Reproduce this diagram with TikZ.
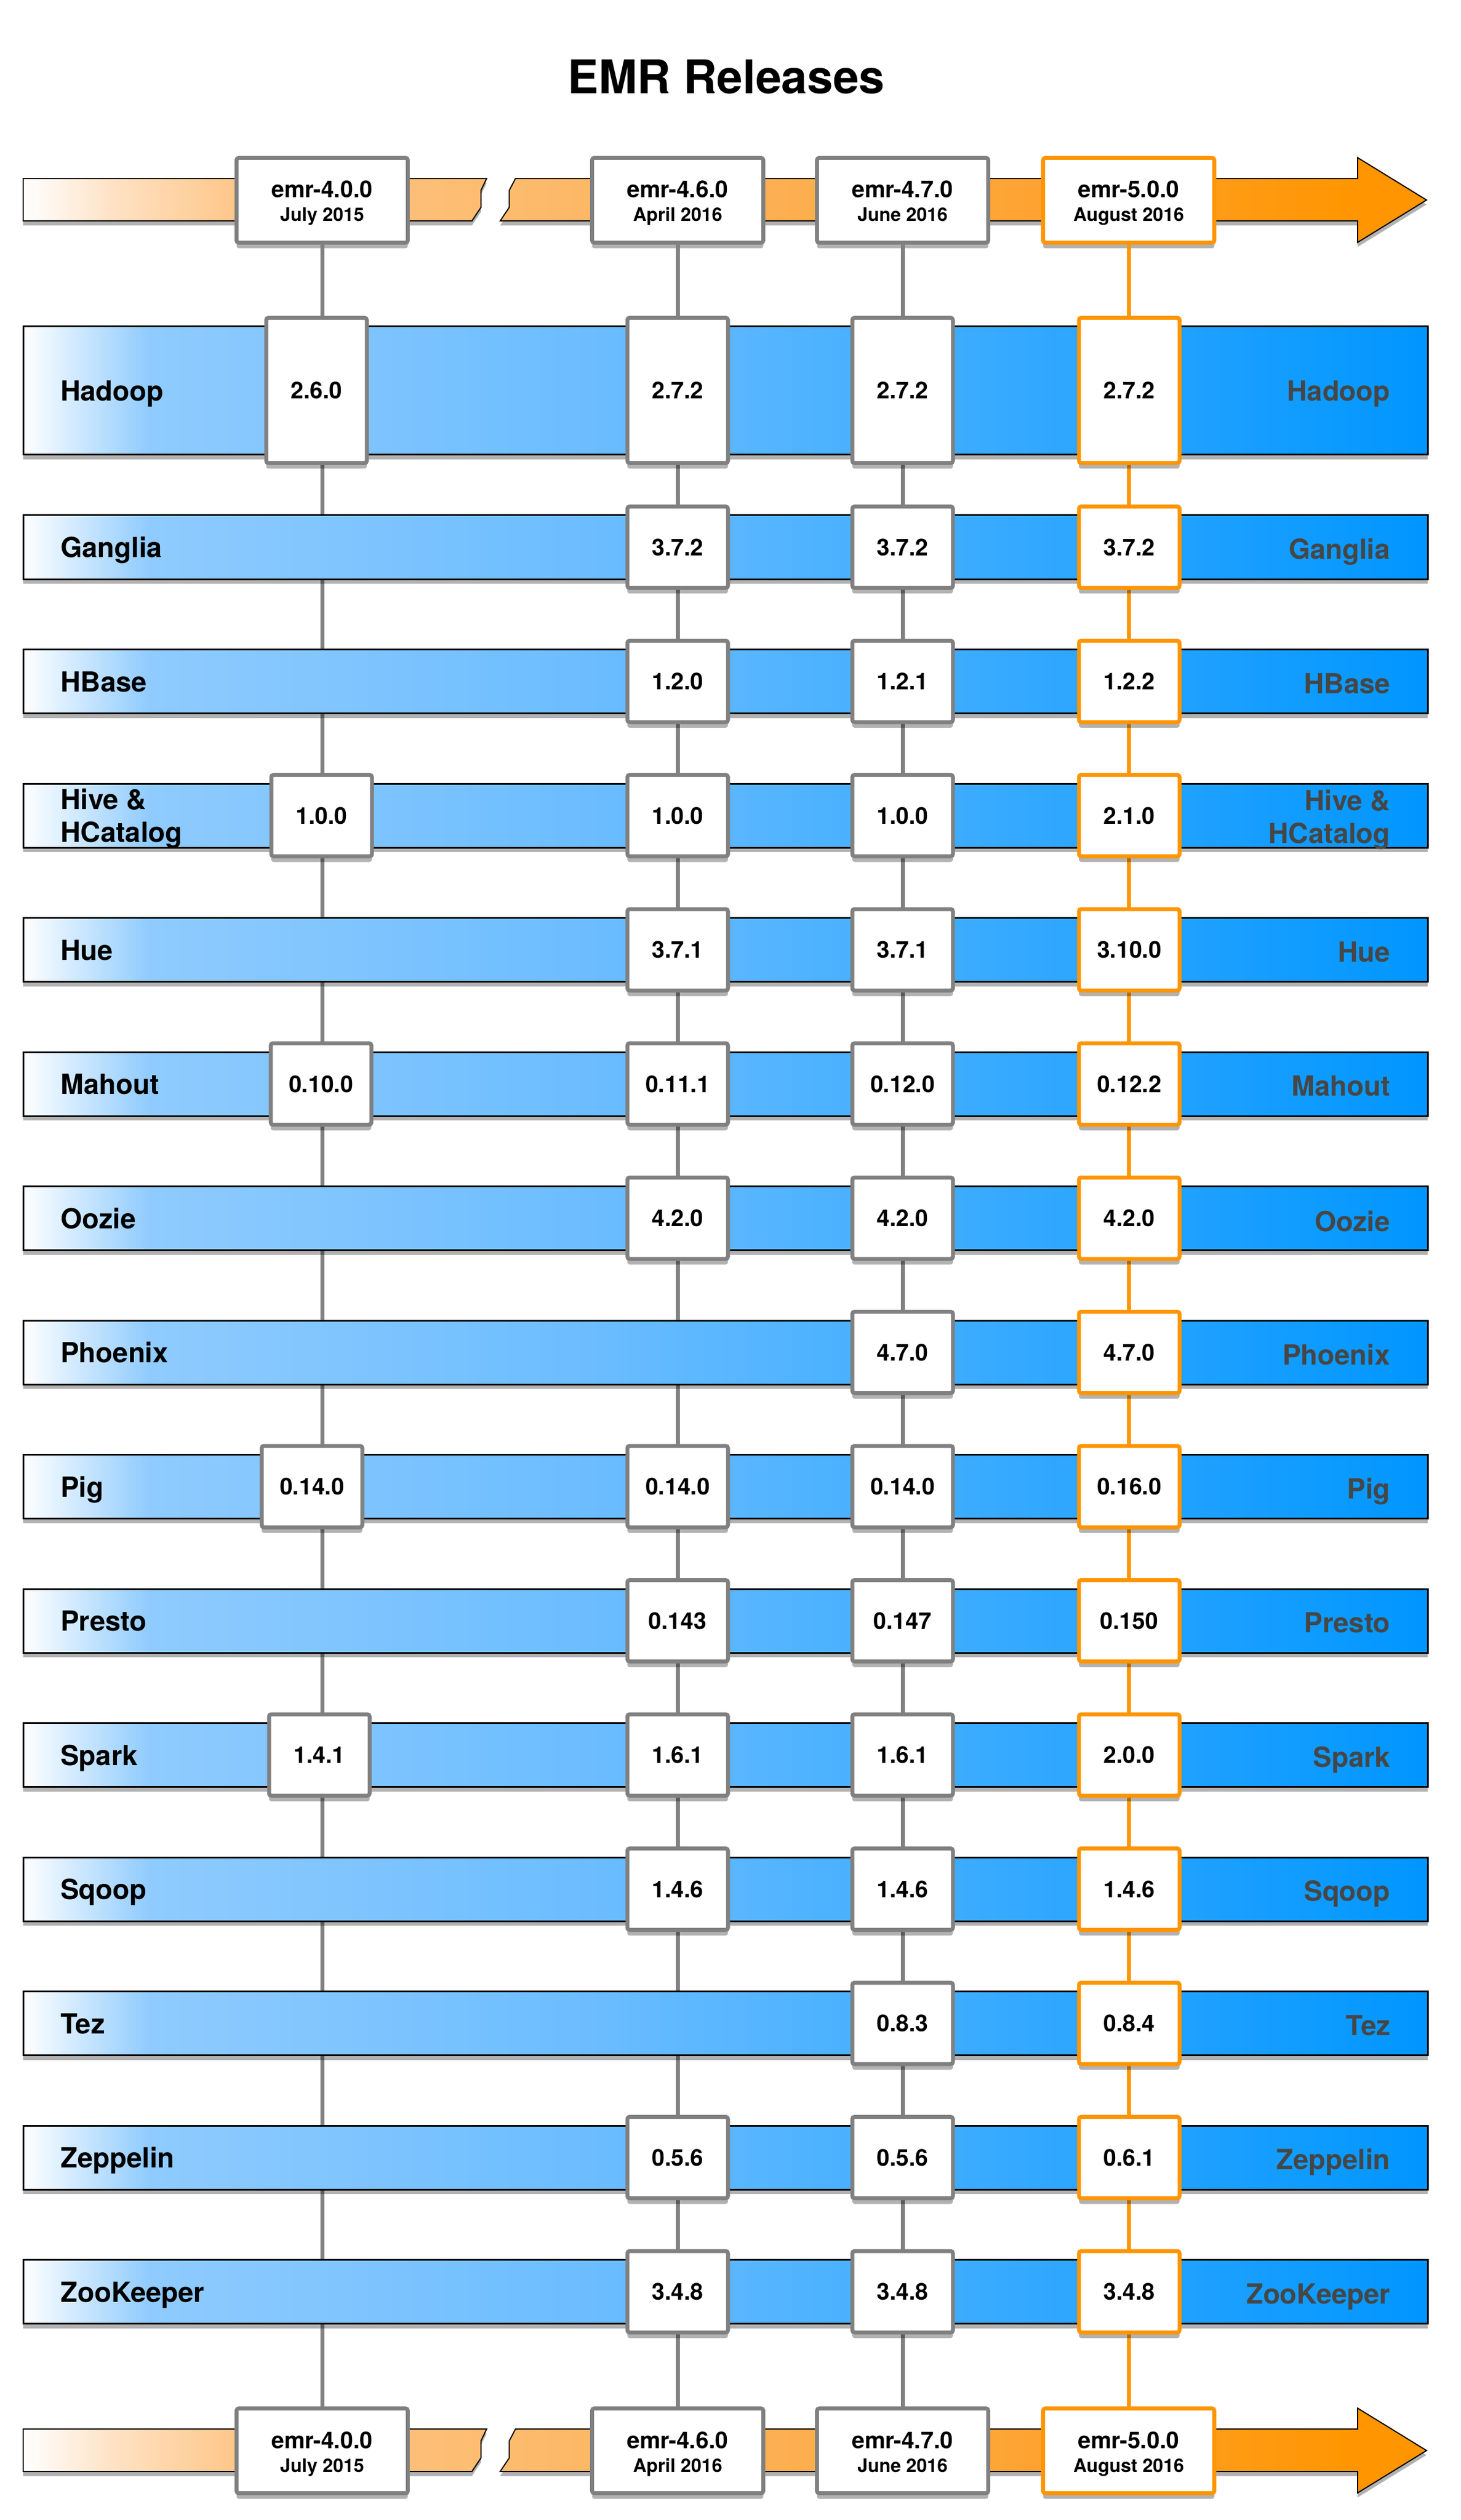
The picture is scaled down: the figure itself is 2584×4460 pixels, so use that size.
\documentclass[tikz,border=0pt]{standalone}
\usepackage{fontspec}
\setmainfont{TeX Gyre Heros}
\usetikzlibrary{shadows}

\definecolor{boxgray}{RGB}{128,128,128}
\definecolor{emrorange}{RGB}{255,149,0}
\definecolor{lblgray}{RGB}{70,70,70}
\definecolor{blA}{RGB}{143,203,254}
\definecolor{blB}{RGB}{108,189,255}
\definecolor{blC}{RGB}{0,150,255}
\definecolor{orA}{RGB}{254,226,196}
\definecolor{orB}{RGB}{254,199,138}
\definecolor{orC}{RGB}{253,188,112}
\definecolor{orD}{RGB}{253,178,88}
\definecolor{orE}{RGB}{254,163,50}
\definecolor{orF}{RGB}{255,149,0}

\pgfdeclarehorizontalshading{appshade}{100bp}{color(0bp)=(white); color(25bp)=(white); color(29.5bp)=(blA); color(45bp)=(blB); color(75bp)=(blC); color(100bp)=(blC)}
\pgfdeclarehorizontalshading{timeshade}{100bp}{color(0bp)=(white); color(25bp)=(white); color(28.2bp)=(orA); color(32.5bp)=(orB); color(41.5bp)=(orC); color(50bp)=(orD); color(61bp)=(orE); color(72.5bp)=(orF); color(100bp)=(orF)}

\tikzset{every picture/.style={line width=0.75pt},
  appbar/.style={shade, shading=appshade, draw=black, line width=0.9pt,
    drop shadow={shadow xshift=0pt, shadow yshift=-2.4pt, opacity=0.3, fill=black}},
  timebar/.style={shade, shading=timeshade, draw=black, line width=0.6pt,
    drop shadow={shadow xshift=0pt, shadow yshift=-2.4pt, opacity=0.3, fill=black}},
  verbox/.style={draw=boxgray, fill=white, line width=2.1pt, rounded corners=1.2pt,
    inner sep=0pt, minimum width=53.4pt, minimum height=43.2pt,
    font=\bfseries\fontsize{12.3}{14}\selectfont,
    drop shadow={shadow xshift=0pt, shadow yshift=-3pt, opacity=0.3, fill=black}},
  newbox/.style={verbox, draw=emrorange},
  hadoopbox/.style={verbox, minimum height=77.1pt},
  newhadoopbox/.style={hadoopbox, draw=emrorange},
  relbox/.style={verbox, minimum width=90.9pt, minimum height=45pt},
  newrelbox/.style={relbox, draw=emrorange},
  relline/.style={draw=boxgray, line width=2.1pt},
  newrelline/.style={relline, draw=emrorange},
  applabel/.style={anchor=base west, inner sep=0pt, font=\bfseries\fontsize{14.7}{17.4}\selectfont},
  applabelr/.style={anchor=base east, inner sep=0pt, text=lblgray, font=\bfseries\fontsize{14.7}{17.4}\selectfont},
  relname/.style={anchor=base, inner sep=0pt, font=\bfseries\fontsize{12.3}{14}\selectfont},
  reldate/.style={anchor=base, inner sep=0pt, font=\bfseries\fontsize{9.9}{12}\selectfont},
  titletext/.style={anchor=base, inner sep=0pt, font=\bfseries\fontsize{24.6}{28}\selectfont}
}

\begin{document}
\begin{tikzpicture}[x=0.3pt,y=-0.3pt]
%set diagram area: 2584 x 4460
\path [use as bounding box, fill=white] (0,0) rectangle (2584,4460);

% Text Node
\node [titletext] (title) at (1285,166) {EMR Releases};

%Shape: Timeline arrow (top)
\path [timebar] (41,316) -- (861,316) -- (851,337) -- (851,367) -- (835,391) -- (41,391) -- cycle
  (912,316) -- (2402,316) -- (2402,279) -- (2524,354) -- (2402,429) -- (2402,391) -- (885,391) -- (901,367) -- (901,337) -- cycle ;
%Shape: Timeline arrow (bottom)
\path [timebar] (41,4299) -- (861,4299) -- (851,4320) -- (851,4350) -- (835,4374) -- (41,4374) -- cycle
  (912,4299) -- (2402,4299) -- (2402,4262) -- (2524,4337) -- (2402,4412) -- (2402,4374) -- (885,4374) -- (901,4350) -- (901,4320) -- cycle ;

%Shape: Release boxes (top)
\node [relbox] (rel400) at (570,354.5) {};
\node [relname] (rel400n) at (570,350) {emr-4.0.0};
\node [reldate] (rel400d) at (570,392) {July 2015};
\node [relbox] (rel460) at (1199,354.5) {};
\node [relname] (rel460n) at (1199,350) {emr-4.6.0};
\node [reldate] (rel460d) at (1199,392) {April 2016};
\node [relbox] (rel470) at (1597,354.5) {};
\node [relname] (rel470n) at (1597,350) {emr-4.7.0};
\node [reldate] (rel470d) at (1597,392) {June 2016};
\node [newrelbox] (rel500) at (1997,354.5) {};
\node [relname] (rel500n) at (1997,350) {emr-5.0.0};
\node [reldate] (rel500d) at (1997,392) {August 2016};

%Shape: Release boxes (bottom)
\node [relbox] (rel400b) at (570,4337.5) {};
\node [relname] (rel400bn) at (570,4333) {emr-4.0.0};
\node [reldate] (rel400bd) at (570,4375) {July 2015};
\node [relbox] (rel460b) at (1199,4337.5) {};
\node [relname] (rel460bn) at (1199,4333) {emr-4.6.0};
\node [reldate] (rel460bd) at (1199,4375) {April 2016};
\node [relbox] (rel470b) at (1597,4337.5) {};
\node [relname] (rel470bn) at (1597,4333) {emr-4.7.0};
\node [reldate] (rel470bd) at (1597,4375) {June 2016};
\node [newrelbox] (rel500b) at (1997,4337.5) {};
\node [relname] (rel500bn) at (1997,4333) {emr-5.0.0};
\node [reldate] (rel500bd) at (1997,4375) {August 2016};

%Straight Lines
\draw [relline] (rel400.south) -- (rel400b.north) ;
\draw [relline] (rel460.south) -- (rel460b.north) ;
\draw [relline] (rel470.south) -- (rel470b.north) ;
\draw [newrelline] (rel500.south) -- (rel500b.north) ;

%Shape: Rectangle [Hadoop]
\path [appbar] (41,578) rectangle (2526,805) ;
%Shape: Rectangle [Ganglia]
\path [appbar] (41,912) rectangle (2526,1025) ;
%Shape: Rectangle [HBase]
\path [appbar] (41,1149.5) rectangle (2526,1262.5) ;
%Shape: Rectangle [Hive]
\path [appbar] (41,1387) rectangle (2526,1500) ;
%Shape: Rectangle [Hue]
\path [appbar] (41,1624.5) rectangle (2526,1737.5) ;
%Shape: Rectangle [Mahout]
\path [appbar] (41,1862) rectangle (2526,1975) ;
%Shape: Rectangle [Oozie]
\path [appbar] (41,2099.5) rectangle (2526,2212.5) ;
%Shape: Rectangle [Phoenix]
\path [appbar] (41,2337) rectangle (2526,2450) ;
%Shape: Rectangle [Pig]
\path [appbar] (41,2574.5) rectangle (2526,2687.5) ;
%Shape: Rectangle [Presto]
\path [appbar] (41,2812) rectangle (2526,2925) ;
%Shape: Rectangle [Spark]
\path [appbar] (41,3049.5) rectangle (2526,3162.5) ;
%Shape: Rectangle [Sqoop]
\path [appbar] (41,3287) rectangle (2526,3400) ;
%Shape: Rectangle [Tez]
\path [appbar] (41,3524.5) rectangle (2526,3637.5) ;
%Shape: Rectangle [Zeppelin]
\path [appbar] (41,3762) rectangle (2526,3875) ;
%Shape: Rectangle [ZooKeeper]
\path [appbar] (41,3999.5) rectangle (2526,4112.5) ;

% Text Node
\node [applabel] (hadoopL) at (106,709.5) {Hadoop};
\node [applabelr] (hadoopR) at (2461,709.5) {Hadoop};
\node [applabel] (gangliaL) at (106,986.5) {Ganglia};
\node [applabelr] (gangliaR) at (2461,989.5) {Ganglia};
\node [applabel] (hbaseL) at (106,1224) {HBase};
\node [applabelr] (hbaseR) at (2461,1227) {HBase};
\node [applabel] (hiveL) at (106,1432) {Hive \&};
\node [applabel] (hcatL) at (106,1490) {HCatalog};
\node [applabelr] (hiveR) at (2461,1434) {Hive \&};
\node [applabelr] (hcatR) at (2461,1492) {HCatalog};
\node [applabel] (hueL) at (106,1699) {Hue};
\node [applabelr] (hueR) at (2461,1702) {Hue};
\node [applabel] (mahoutL) at (106,1936.5) {Mahout};
\node [applabelr] (mahoutR) at (2461,1939.5) {Mahout};
\node [applabel] (oozieL) at (106,2174) {Oozie};
\node [applabelr] (oozieR) at (2461,2179) {Oozie};
\node [applabel] (phoenixL) at (106,2411.5) {Phoenix};
\node [applabelr] (phoenixR) at (2461,2415) {Phoenix};
\node [applabel] (pigL) at (106,2649) {Pig};
\node [applabelr] (pigR) at (2461,2652) {Pig};
\node [applabel] (prestoL) at (106,2886.5) {Presto};
\node [applabelr] (prestoR) at (2461,2889.5) {Presto};
\node [applabel] (sparkL) at (106,3124) {Spark};
\node [applabelr] (sparkR) at (2461,3127) {Spark};
\node [applabel] (sqoopL) at (106,3361.5) {Sqoop};
\node [applabelr] (sqoopR) at (2461,3364.5) {Sqoop};
\node [applabel] (tezL) at (106,3599) {Tez};
\node [applabelr] (tezR) at (2461,3602) {Tez};
\node [applabel] (zeppelinL) at (106,3836.5) {Zeppelin};
\node [applabelr] (zeppelinR) at (2461,3839.5) {Zeppelin};
\node [applabel] (zookeeperL) at (106,4074) {ZooKeeper};
\node [applabelr] (zookeeperR) at (2461,4077) {ZooKeeper};

%Shape: Version boxes
\node [hadoopbox] (hadoop1) at (560,691) {2.6.0};
\node [hadoopbox] (hadoop2) at (1199,691) {2.7.2};
\node [hadoopbox] (hadoop3) at (1597,691) {2.7.2};
\node [newhadoopbox] (hadoop4) at (1998,691) {2.7.2};

\node [verbox] (ganglia2) at (1199,968.5) {3.7.2};
\node [verbox] (ganglia3) at (1597,968.5) {3.7.2};
\node [newbox] (ganglia4) at (1998,968.5) {3.7.2};

\node [verbox] (hbase2) at (1199,1206) {1.2.0};
\node [verbox] (hbase3) at (1597,1206) {1.2.1};
\node [newbox] (hbase4) at (1998,1206) {1.2.2};

\node [verbox] (hive1) at (569,1443.5) {1.0.0};
\node [verbox] (hive2) at (1199,1443.5) {1.0.0};
\node [verbox] (hive3) at (1597,1443.5) {1.0.0};
\node [newbox] (hive4) at (1998,1443.5) {2.1.0};

\node [verbox] (hue2) at (1199,1681) {3.7.1};
\node [verbox] (hue3) at (1597,1681) {3.7.1};
\node [newbox] (hue4) at (1998,1681) {3.10.0};

\node [verbox] (mahout1) at (568,1918.5) {0.10.0};
\node [verbox] (mahout2) at (1199,1918.5) {0.11.1};
\node [verbox] (mahout3) at (1597,1918.5) {0.12.0};
\node [newbox] (mahout4) at (1998,1918.5) {0.12.2};

\node [verbox] (oozie2) at (1199,2156) {4.2.0};
\node [verbox] (oozie3) at (1597,2156) {4.2.0};
\node [newbox] (oozie4) at (1998,2156) {4.2.0};

\node [verbox] (phoenix3) at (1597,2393.5) {4.7.0};
\node [newbox] (phoenix4) at (1998,2393.5) {4.7.0};

\node [verbox] (pig1) at (552,2631) {0.14.0};
\node [verbox] (pig2) at (1199,2631) {0.14.0};
\node [verbox] (pig3) at (1597,2631) {0.14.0};
\node [newbox] (pig4) at (1998,2631) {0.16.0};

\node [verbox] (presto2) at (1199,2868.5) {0.143};
\node [verbox] (presto3) at (1597,2868.5) {0.147};
\node [newbox] (presto4) at (1998,2868.5) {0.150};

\node [verbox] (spark1) at (565,3106) {1.4.1};
\node [verbox] (spark2) at (1199,3106) {1.6.1};
\node [verbox] (spark3) at (1597,3106) {1.6.1};
\node [newbox] (spark4) at (1998,3106) {2.0.0};

\node [verbox] (sqoop2) at (1199,3343.5) {1.4.6};
\node [verbox] (sqoop3) at (1597,3343.5) {1.4.6};
\node [newbox] (sqoop4) at (1998,3343.5) {1.4.6};

\node [verbox] (tez3) at (1597,3581) {0.8.3};
\node [newbox] (tez4) at (1998,3581) {0.8.4};

\node [verbox] (zeppelin2) at (1199,3818.5) {0.5.6};
\node [verbox] (zeppelin3) at (1597,3818.5) {0.5.6};
\node [newbox] (zeppelin4) at (1998,3818.5) {0.6.1};

\node [verbox] (zookeeper2) at (1199,4056) {3.4.8};
\node [verbox] (zookeeper3) at (1597,4056) {3.4.8};
\node [newbox] (zookeeper4) at (1998,4056) {3.4.8};

\end{tikzpicture}
\end{document}
